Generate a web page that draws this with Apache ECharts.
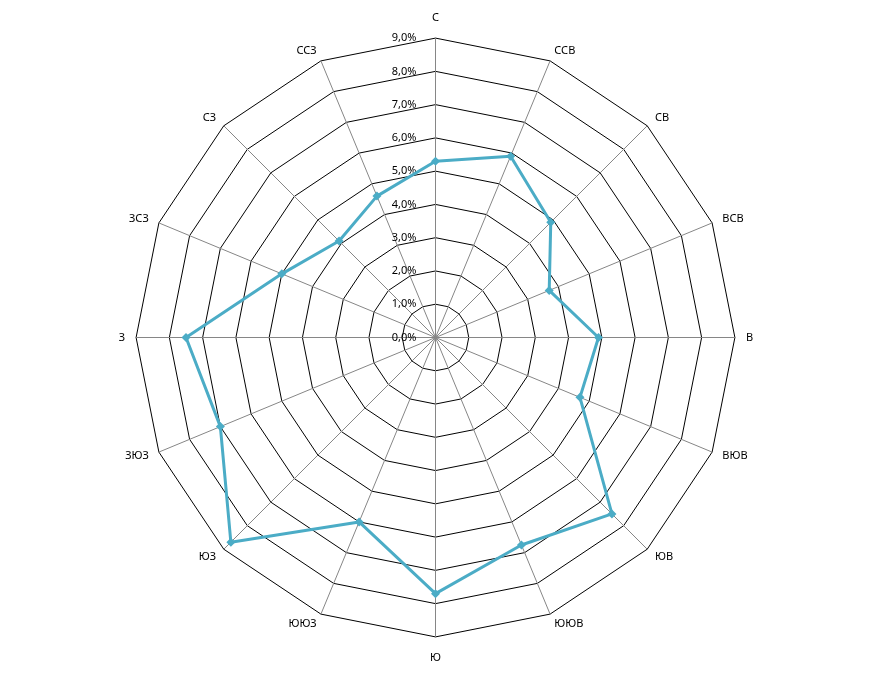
<!DOCTYPE html>
<html><head><meta charset="utf-8">
<script src="https://cdn.jsdelivr.net/npm/echarts@6/dist/echarts.min.js"></script>
<style>html,body{margin:0;padding:0;background:#fff}#c{width:873px;height:677px}</style>
</head><body><div id="c"></div>
<script>
// directions clockwise from north
const directions = ['С','ССВ','СВ','ВСВ','В','ВЮВ','ЮВ','ЮЮВ','Ю','ЮЮЗ','ЮЗ','ЗЮЗ','З','ЗСЗ','СЗ','ССЗ'];
const frequency = [5.3, 5.9, 4.9, 3.7, 4.9, 4.7, 7.5, 6.75, 7.7, 6.0, 8.7, 7.0, 7.5, 5.0, 4.1, 4.6];
const axisMin = 0, axisMax = 9, axisStep = 1;

// ECharts radar runs counter-clockwise; reorder so the chart reads clockwise
const order = [0].concat(directions.map((d, i) => i).slice(1).reverse());
const indicators = order.map((i, k) => ({
  name: directions[i], min: axisMin, max: axisMax,
  axisLabel: { show: k === 0 }
}));
const values = order.map(i => frequency[i]);

const chart = echarts.init(document.getElementById('c'));
chart.setOption({
  animation: false,
  textStyle: { fontFamily: 'Noto Sans' },
  radar: {
    center: [435.5, 337.5],
    radius: 299.4,
    startAngle: 90,
    shape: 'polygon',
    splitNumber: (axisMax - axisMin) / axisStep,
    indicator: indicators,
    nameGap: 11,
    axisName: { color: '#000', fontSize: 11, fontFamily: 'Noto Sans', padding: [4, 0, 4, 0] },
    axisLine: { show: true, lineStyle: { color: '#868686', width: 1 } },
    axisTick: { show: false },
    axisLabel: {
      show: true, color: '#000', fontSize: 11, fontFamily: 'Noto Sans',
      padding: [0, 11, 0, 0],
      formatter: v => v.toFixed(1).replace('.', ',') + '%'
    },
    splitLine: { lineStyle: { color: '#000', width: 1 } },
    splitArea: { show: false }
  },
  series: [{
    type: 'radar',
    symbol: 'diamond',
    symbolSize: 9,
    lineStyle: { color: '#4BACC6', width: 3 },
    itemStyle: { color: '#4BACC6' },
    data: [{ value: values }]
  }]
});
</script></body></html>
